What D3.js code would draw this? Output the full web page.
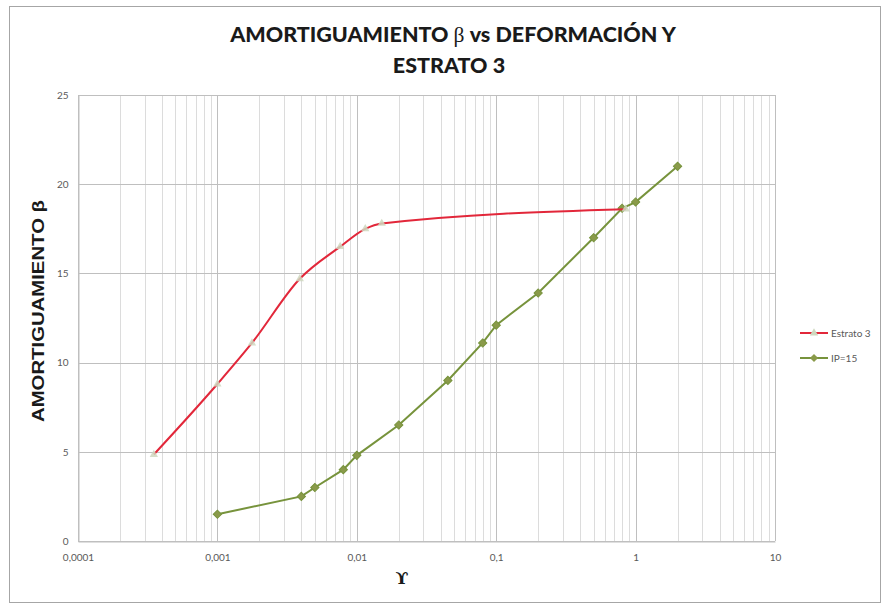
<!DOCTYPE html>
<html>
<head>
<meta charset="utf-8">
<script src="https://cdn.jsdelivr.net/npm/d3@7/dist/d3.min.js"></script>
<style>
  html, body { margin: 0; padding: 0; background: #fff; }
  svg { display: block; }
</style>
</head>
<body>
<svg id="chart" width="883" height="605"></svg>
<script>
// Strain γ (log scale) and damping β for each series
const estratoGamma = [0.00035, 0.001, 0.00177, 0.0039, 0.0076, 0.0115, 0.0151, 0.85];
const estratoBeta  = [4.85, 8.8, 11.1, 14.7, 16.5, 17.5, 17.8, 18.6];
const ipGamma = [0.001, 0.004, 0.005, 0.008, 0.01, 0.02, 0.045, 0.08, 0.1, 0.2, 0.5, 0.8, 1.0, 2.0];
const ipBeta  = [1.5, 2.5, 3.0, 4.0, 4.8, 6.5, 9.0, 11.1, 12.1, 13.9, 17.0, 18.65, 19.0, 21.0];

const xTickValues = [0.0001, 0.001, 0.01, 0.1, 1, 10];
const xTickLabels = ["0,0001", "0,001", "0,01", "0,1", "1", "10"];
const yTickValues = [0, 5, 10, 15, 20, 25];

const seriesNames = ["Estrato 3", "IP=15"];

const svg = d3.select("#chart");
const plot = { left: 78, right: 775, top: 95, bottom: 541 };

// outer frame
svg.append("rect")
  .attr("x", 9.5).attr("y", 6.5)
  .attr("width", 871).attr("height", 596)
  .attr("fill", "#fff").attr("stroke", "#a6a6a6").attr("stroke-width", 1);

const x = d3.scaleLog().domain([0.0001, 10]).range([plot.left, plot.right]);
const y = d3.scaleLinear().domain([0, 25]).range([plot.bottom, plot.top]);

// minor vertical gridlines (2..9 within each decade)
const minor = [];
for (let e = -4; e < 1; e++) {
  for (let m = 2; m <= 9; m++) minor.push(m * Math.pow(10, e));
}
const grid = svg.append("g");
grid.selectAll("line.minor").data(minor).join("line")
  .attr("class", "minor")
  .attr("x1", d => Math.round(x(d)) + 0.5).attr("x2", d => Math.round(x(d)) + 0.5)
  .attr("y1", plot.top).attr("y2", plot.bottom)
  .attr("stroke", "#dcdcdc").attr("stroke-width", 1);

grid.selectAll("line.vmajor").data(xTickValues).join("line")
  .attr("class", "vmajor")
  .attr("x1", d => Math.round(x(d)) + 0.5).attr("x2", d => Math.round(x(d)) + 0.5)
  .attr("y1", plot.top).attr("y2", plot.bottom)
  .attr("stroke", "#bfbfbf").attr("stroke-width", 1);

grid.selectAll("line.hmajor").data(yTickValues).join("line")
  .attr("class", "hmajor")
  .attr("x1", plot.left).attr("x2", plot.right)
  .attr("y1", d => Math.round(y(d)) + 0.5).attr("y2", d => Math.round(y(d)) + 0.5)
  .attr("stroke", "#bfbfbf").attr("stroke-width", 1);

// axes
const xAxis = d3.axisBottom(x).tickValues(xTickValues)
  .tickFormat((d, i) => xTickLabels[i]).tickSize(0).tickPadding(12);
const gx = svg.append("g").attr("transform", `translate(0,${plot.bottom + 0.5})`).call(xAxis);
gx.select(".domain").attr("stroke", "#bfbfbf");
gx.selectAll("text").attr("fill", "#595959").style("font-family", "Lato, 'Open Sans', sans-serif").style("font-size", "10px");

const yAxis = d3.axisLeft(y).tickValues(yTickValues).tickSize(0).tickPadding(10);
const gy = svg.append("g").attr("transform", `translate(${plot.left + 0.5},0)`).call(yAxis);
gy.select(".domain").attr("stroke", "#bfbfbf");
gy.selectAll("text").attr("fill", "#595959").style("font-family", "Lato, 'Open Sans', sans-serif").style("font-size", "10px");

// series
const estrato = estratoGamma.map((g, i) => ({ g, b: estratoBeta[i] }));
const ip = ipGamma.map((g, i) => ({ g, b: ipBeta[i] }));

const redColor = "#e2273a";
const greenColor = "#77933c";

const smoothLine = d3.line().x(d => x(d.g)).y(d => y(d.b)).curve(d3.curveMonotoneX);
const straightLine = d3.line().x(d => x(d.g)).y(d => y(d.b));

svg.append("path").datum(ip)
  .attr("d", straightLine)
  .attr("fill", "none").attr("stroke", greenColor).attr("stroke-width", 2);

// diamond marker: a square turned 45 degrees
const diamond = d3.symbol().type(d3.symbolSquare).size(34);
svg.append("g").selectAll("path").data(ip).join("path")
  .attr("transform", d => `translate(${x(d.g)},${y(d.b)}) rotate(45)`)
  .attr("d", diamond)
  .attr("fill", "#8a9a4a").attr("stroke", "#77933c").attr("stroke-width", 1);

svg.append("path").datum(estrato)
  .attr("d", smoothLine)
  .attr("fill", "none").attr("stroke", redColor).attr("stroke-width", 2);

const tri = d3.symbol().type(d3.symbolTriangle).size(30);
svg.append("g").selectAll("path").data(estrato).join("path")
  .attr("transform", d => `translate(${x(d.g)},${y(d.b)})`)
  .attr("d", tri)
  .attr("fill", "#cfd8bf").attr("opacity", 0.85);

// legend
const legend = svg.append("g").style("font-family", "Lato, 'Open Sans', sans-serif").style("font-size", "10px");
const legendRows = [
  { name: seriesNames[0], color: redColor, marker: tri, fill: "#cfd8bf", rot: 0, y: 333 },
  { name: seriesNames[1], color: greenColor, marker: diamond, fill: "#8a9a4a", rot: 45, y: 358 }
];
legendRows.forEach(r => {
  legend.append("line").attr("x1", 800).attr("x2", 828).attr("y1", r.y).attr("y2", r.y)
    .attr("stroke", r.color).attr("stroke-width", 2);
  legend.append("path").attr("transform", `translate(814,${r.y}) rotate(${r.rot})`).attr("d", r.marker).attr("fill", r.fill);
  legend.append("text").attr("x", 831).attr("y", r.y + 3.5).attr("fill", "#595959").text(r.name);
});

// titles
const title = svg.append("text")
  .attr("text-anchor", "middle")
  .style("font-family", "Lato, 'Open Sans', sans-serif")
  .style("font-weight", "900").style("font-size", "21.5px").attr("fill", "#1a1a1a");
const t1 = title.append("tspan").attr("x", 453).attr("y", 42);
t1.append("tspan").text("AMORTIGUAMIENTO ");
t1.append("tspan").style("font-family", "'Liberation Serif', serif").style("font-weight", "normal").text("β");
t1.append("tspan").text(" vs DEFORMACIÓN Y");
title.append("tspan").attr("x", 449).attr("y", 73).text("ESTRATO 3");

svg.append("text")
  .attr("transform", `translate(44,311) rotate(-90)`)
  .attr("text-anchor", "middle")
  .attr("textLength", 222).attr("lengthAdjust", "spacingAndGlyphs")
  .style("font-family", "'Liberation Sans', Arial, sans-serif")
  .style("font-weight", "bold").style("font-size", "16px").attr("fill", "#1a1a1a")
  .text("AMORTIGUAMIENTO  β");

svg.append("text")
  .attr("x", 402).attr("y", 584)
  .attr("text-anchor", "middle")
  .style("font-family", "'DejaVu Serif', serif")
  .style("font-weight", "bold").style("font-size", "17px").attr("fill", "#1a1a1a")
  .text("ϒ");
</script>
</body>
</html>
